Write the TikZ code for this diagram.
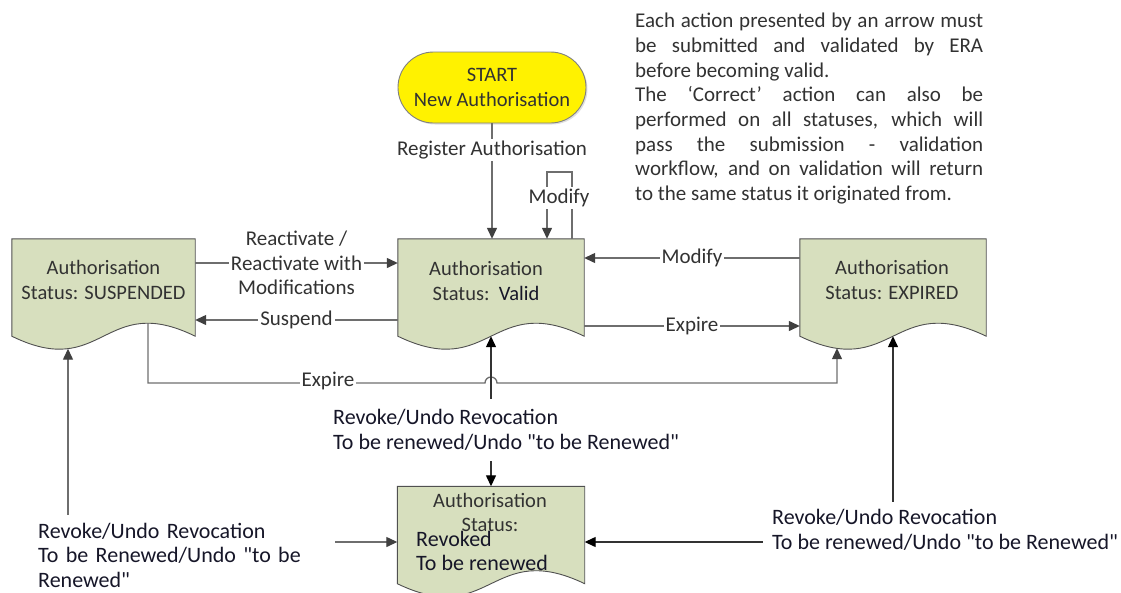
\documentclass[tikz,border=0pt]{standalone}
\usepackage{fontspec}
\setmainfont{Carlito}[Ligatures=TeXOff]
\setlength{\parindent}{0pt}
\usetikzlibrary{arrows.meta,shapes.misc,shadows}
\definecolor{docfill}{RGB}{215,223,190}
\definecolor{docline}{RGB}{80,80,80}
\definecolor{connc}{RGB}{110,110,110}
\definecolor{tipc}{RGB}{64,64,64}
\definecolor{blkc}{RGB}{50,50,50}
\definecolor{txtc}{RGB}{50,50,50}
\definecolor{darktxt}{RGB}{22,22,40}
\newcommand{\docshape}[4]{%
  \node[docbox, minimum width=#4] (#1) at (#2,#3) {};
  \filldraw[docdraw] (#1.north west) -- (#1.north east) -- (#1.south east)
    .. controls ([yshift=45pt]#1.south) and ([yshift=-45pt]#1.south) .. (#1.south west) -- cycle;
}
\tikzset{
  tipg/.tip={Triangle[length=11pt,width=10pt,color=tipc]},
  tipb/.tip={Triangle[length=11pt,width=10pt,color=black]},
}
\begin{document}
\begin{tikzpicture}[x=1pt,y=-1pt,
  font=\fontsize{20.5}{24.4}\selectfont,
  docbox/.style={draw=none, minimum height=97pt, inner sep=0pt},
  docdraw/.style={fill=docfill, draw=docline, line width=0.9pt},
  boxtxt/.style={align=center, text=txtc, inner sep=0pt},
  startnode/.style={rounded rectangle, minimum width=188pt, minimum height=71pt,
    fill=yellow, draw=gray, line width=0.9pt, align=center, text=txtc, inner sep=0pt,
    drop shadow={shadow xshift=1.5pt, shadow yshift=-1.5pt, opacity=0.25}},
  conn/.style={draw=connc, line width=1.3pt, -tipg},
  conn2/.style={draw=connc, line width=1.3pt, tipg-tipg},
  blk2/.style={draw=blkc, line width=1.3pt, tipb-tipb},
  lbl/.style={fill=white, text=txtc, inner sep=2pt, align=center,
    font=\fontsize{21}{24.5}\selectfont},
  revlab/.style={fill=white, text=darktxt, align=left,
    font=\fontsize{22}{25.5}\selectfont},
]
\path[use as bounding box] (0,0) rectangle (1121,592);
\clip (0,0) rectangle (1121,592);

% note
\node[anchor=north west, inner sep=0pt, align=left, text=txtc,
      font=\fontsize{21}{24.7}\selectfont] (note) at (635,13)
{\makebox[348pt][s]{Each action presented by an arrow must}\\
 \makebox[348pt][s]{be submitted and validated by ERA}\\
 before becoming valid.\\
 \makebox[348pt][s]{The ‘Correct’ action can also be}\\
 \makebox[348pt][s]{performed on all statuses, which will}\\
 \makebox[348pt][s]{pass the submission - validation}\\
 \makebox[348pt][s]{workflow, and on validation will return}\\
 to the same status it originated from.};

% start
\node[startnode] (start) at (492,87.5) {START\\New Authorisation};

% document shapes
\docshape{sus}{103.5}{287.5}{183}
\docshape{val}{491}{287.5}{186}
\docshape{exp}{893}{287.5}{186}
\docshape{rev}{491}{535}{187}

\node[boxtxt] (sust) at (103.5,280) {Authorisation\\Status: SUSPENDED};
\node[boxtxt] (valt) at (486,281) {Authorisation\\Status:\ \ {\color{darktxt}Valid}};
\node[boxtxt] (expt) at (892,280) {Authorisation\\Status: EXPIRED};
\node[boxtxt] (revt) at (490,512.5) {Authorisation\\Status:};
\node[boxtxt, anchor=west, align=left, text=darktxt,
      font=\fontsize{22}{24}\selectfont] (revt2) at (416,551) {Revoked\\To be renewed};

% start -> valid
\draw[conn] (start.south) -- node[lbl, pos=0.23] (reglbl) {Register Authorisation} (start.south |- val.north);

% modify loop
\coordinate (modtop) at (560,172);
\draw[conn] ([xshift=81pt]val.north) |- (modtop) -| ([xshift=56pt]val.north);
\node[lbl] (modlbl) at (559,198) {Modify};

% horizontal connectors
\draw[conn] ([yshift=24.5pt]sus.east) -- node[lbl] (reactlbl) {Reactivate /\\Reactivate with\\Modifications} ([yshift=24.5pt]val.west);
\draw[conn] ([yshift=-32.5pt]val.west) -- node[lbl] (suslbl) {Suspend} ([yshift=-32.5pt]sus.east);
\draw[conn] ([yshift=29.5pt]exp.west) -- node[lbl] (modlbl2) {Modify} ([yshift=29.5pt]val.east);
\draw[conn] ([yshift=-38.5pt]val.east) -- node[lbl] (explbl) {Expire} ([yshift=-38.5pt]exp.west);

% expire from suspended with hop
\coordinate (suspk) at ([xshift=44.5pt,yshift=13pt]sus.south);
\coordinate (expdp) at ([xshift=-56pt,yshift=-12pt]exp.south);
\coordinate (hopL) at (485,383);
\draw[conn] (suspk) |- (hopL) arc[start angle=180, end angle=0, radius=6pt] -| (expdp);
\node[lbl] (explbl2) at (328,381) {Expire};

% revoked <-> valid
\draw[blk2] (val.south) -- (rev.north);
\node[revlab, anchor=west, inner sep=4pt, minimum height=62pt] (revlbl) at (329,430)
  {Revoke/Undo Revocation\\To be renewed/Undo "to be Renewed"};

% revoked <-> suspended
\coordinate (susdp) at ([xshift=-35.5pt,yshift=-12.5pt]sus.south);
\draw[conn2] ([yshift=-7pt]rev.west) -| (susdp);
\node[revlab, anchor=north west, text width=292pt, inner xsep=5pt, inner ysep=8pt,
      font=\fontsize{22}{24.5}\selectfont] (leftlbl) at (33,515)
  {Revoke/Undo Revocation\\To be Renewed/Undo "to be\\Renewed"};

% revoked <-> expired
\draw[blk2] ([yshift=-7pt]rev.east) -| (exp.south);
\node[revlab, anchor=north west, inner xsep=9pt, inner ysep=7pt] (rightlbl) at (763,502)
  {Revoke/Undo Revocation\\To be renewed/Undo "to be Renewed"};
\end{tikzpicture}
\end{document}
